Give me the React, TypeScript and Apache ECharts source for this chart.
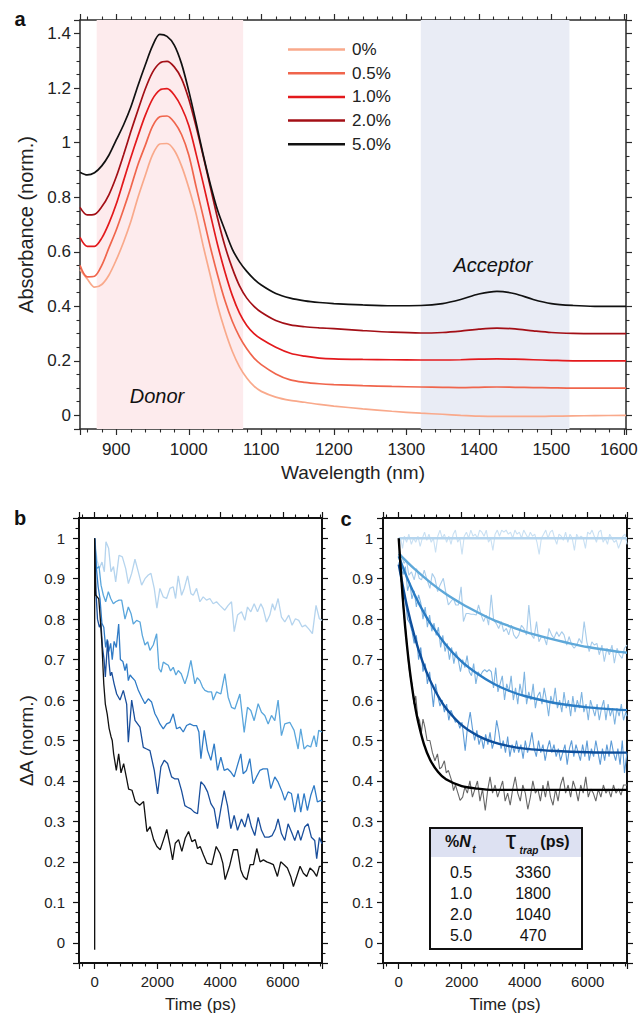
import { useEffect, useRef } from 'react';
import * as echarts from 'echarts';

const FONT = '"Liberation Sans", Arial, Helvetica, sans-serif';

// ---------- Panel a: absorbance spectra ----------
const wavelengths = [850, 860, 870, 880, 890, 900, 910, 920, 930, 940, 950, 960, 970, 980, 990, 1000, 1010, 1020, 1030, 1040, 1050, 1060, 1070, 1080, 1090, 1100, 1120, 1140, 1160, 1180, 1200, 1240, 1280, 1320, 1350, 1375, 1400, 1425, 1450, 1475, 1500, 1530, 1560, 1603];
const abs0 = [0.535, 0.5, 0.47, 0.48, 0.515, 0.57, 0.635, 0.71, 0.8, 0.88, 0.955, 0.995, 0.997, 0.972, 0.915, 0.835, 0.74, 0.62, 0.51, 0.4, 0.31, 0.235, 0.178, 0.137, 0.107, 0.088, 0.067, 0.055, 0.048, 0.04, 0.034, 0.024, 0.015, 0.008, 0.004, 0.0, -0.003, -0.004, -0.004, -0.004, -0.003, -0.002, -0.001, 0.0];
const abs05 = [0.55, 0.508, 0.51, 0.55, 0.615, 0.68, 0.755, 0.835, 0.92, 0.99, 1.06, 1.095, 1.098, 1.075, 1.03, 0.955, 0.84, 0.728, 0.615, 0.512, 0.42, 0.345, 0.288, 0.244, 0.21, 0.186, 0.152, 0.13, 0.121, 0.116, 0.113, 0.109, 0.106, 0.104, 0.103, 0.102, 0.103, 0.104, 0.103, 0.102, 0.101, 0.1, 0.1, 0.1];
const abs10 = [0.653, 0.62, 0.62, 0.65, 0.705, 0.775, 0.86, 0.945, 1.025, 1.1, 1.16, 1.193, 1.198, 1.175, 1.13, 1.063, 0.96, 0.85, 0.735, 0.623, 0.525, 0.44, 0.375, 0.33, 0.3, 0.28, 0.25, 0.228, 0.217, 0.21, 0.207, 0.205, 0.204, 0.203, 0.203, 0.204, 0.206, 0.207, 0.206, 0.204, 0.202, 0.2, 0.2, 0.2];
const abs20 = [0.763, 0.735, 0.737, 0.765, 0.81, 0.875, 0.955, 1.04, 1.12, 1.197, 1.258, 1.292, 1.298, 1.278, 1.235, 1.16, 1.06, 0.95, 0.835, 0.72, 0.62, 0.54, 0.475, 0.43, 0.4, 0.378, 0.348, 0.332, 0.325, 0.321, 0.318, 0.311, 0.305, 0.302, 0.304, 0.309, 0.316, 0.32, 0.317, 0.31, 0.304, 0.301, 0.3, 0.3];
const abs50 = [0.892, 0.882, 0.89, 0.915, 0.955, 1.01, 1.065, 1.13, 1.21, 1.285, 1.355, 1.397, 1.39, 1.358, 1.29, 1.19, 1.075, 0.955, 0.845, 0.75, 0.678, 0.61, 0.563, 0.528, 0.5, 0.478, 0.447, 0.43, 0.42, 0.414, 0.41, 0.405, 0.402, 0.403, 0.41, 0.425, 0.445, 0.455, 0.446, 0.425, 0.41, 0.403, 0.4, 0.4];
const absLabels = ['0%', '0.5%', '1.0%', '2.0%', '5.0%'];
const absColors = ['#f9a98b', '#f0654c', '#e3191c', '#a30f16', '#111111'];
const donorBand = [873, 1075];
const acceptorBand = [1320, 1525];

// ---------- Panel b: raw kinetics ----------
const b1: number[][] = [[0, 1.0], [74, 0.946], [148, 0.925], [233, 0.941], [308, 0.917], [360, 0.991], [445, 0.975], [520, 0.917], [600, 0.93], [670, 0.892], [776, 0.958], [882, 0.954], [990, 0.925], [1075, 0.888], [1180, 0.913], [1285, 0.948], [1392, 0.917], [1498, 0.884], [1604, 0.9], [1710, 0.909], [1795, 0.913], [1900, 0.876], [1985, 0.827], [2080, 0.876], [2188, 0.855], [2293, 0.851], [2400, 0.876], [2506, 0.88], [2580, 0.851], [2665, 0.907], [2772, 0.859], [2857, 0.876], [2963, 0.907], [3070, 0.863], [3144, 0.859], [3250, 0.876], [3356, 0.843], [3461, 0.855], [3567, 0.847], [3673, 0.851], [3780, 0.838], [3886, 0.843], [3992, 0.834], [4150, 0.822], [4257, 0.834], [4364, 0.843], [4450, 0.769], [4556, 0.81], [4683, 0.818], [4790, 0.797], [4874, 0.83], [4980, 0.818], [5087, 0.838], [5193, 0.818], [5299, 0.838], [5374, 0.826], [5480, 0.793], [5586, 0.81], [5670, 0.838], [5745, 0.822], [5850, 0.851], [5957, 0.805], [6063, 0.793], [6190, 0.81], [6296, 0.785], [6402, 0.801], [6508, 0.797], [6614, 0.781], [6720, 0.785], [6826, 0.776], [6944, 0.764], [7060, 0.834], [7166, 0.801], [7250, 0.797]];
const b2: number[][] = [[0, 1.0], [65, 0.925], [139, 0.93], [203, 0.884], [277, 0.859], [351, 0.843], [436, 0.868], [511, 0.851], [596, 0.838], [670, 0.843], [776, 0.847], [861, 0.847], [967, 0.8], [1073, 0.83], [1158, 0.814], [1232, 0.788], [1339, 0.797], [1445, 0.793], [1519, 0.76], [1604, 0.736], [1689, 0.744], [1763, 0.723], [1869, 0.736], [1976, 0.764], [2050, 0.678], [2120, 0.669], [2188, 0.694], [2260, 0.69], [2347, 0.686], [2420, 0.672], [2506, 0.681], [2590, 0.662], [2666, 0.673], [2760, 0.665], [2878, 0.64], [2960, 0.66], [3069, 0.698], [3196, 0.64], [3270, 0.655], [3356, 0.648], [3440, 0.632], [3515, 0.624], [3621, 0.62], [3727, 0.62], [3780, 0.6], [3886, 0.62], [4024, 0.615], [4152, 0.665], [4257, 0.607], [4364, 0.582], [4470, 0.578], [4630, 0.615], [4768, 0.52], [4874, 0.582], [4980, 0.574], [5086, 0.549], [5214, 0.591], [5320, 0.57], [5426, 0.562], [5533, 0.541], [5639, 0.562], [5745, 0.549], [5850, 0.6], [5957, 0.512], [6063, 0.541], [6222, 0.545], [6360, 0.525], [6488, 0.479], [6572, 0.529], [6678, 0.479], [6784, 0.488], [6890, 0.484], [6997, 0.512], [7071, 0.484], [7145, 0.525], [7250, 0.521]];
const b3: number[][] = [[0, 1.0], [50, 0.93], [110, 0.88], [170, 0.85], [230, 0.79], [290, 0.78], [350, 0.73], [400, 0.75], [450, 0.72], [510, 0.74], [560, 0.7], [620, 0.745], [690, 0.73], [765, 0.788], [820, 0.7], [900, 0.695], [967, 0.673], [1020, 0.69], [1073, 0.648], [1130, 0.662], [1180, 0.657], [1286, 0.648], [1392, 0.624], [1498, 0.607], [1604, 0.591], [1710, 0.603], [1816, 0.595], [1922, 0.566], [2000, 0.555], [2082, 0.541], [2188, 0.529], [2294, 0.541], [2400, 0.545], [2506, 0.566], [2612, 0.529], [2718, 0.533], [2825, 0.521], [2931, 0.537], [3037, 0.541], [3143, 0.537], [3249, 0.537], [3324, 0.521], [3388, 0.455], [3494, 0.525], [3600, 0.475], [3706, 0.451], [3812, 0.492], [3918, 0.426], [4024, 0.459], [4130, 0.426], [4237, 0.43], [4343, 0.422], [4449, 0.41], [4555, 0.439], [4661, 0.467], [4736, 0.418], [4842, 0.426], [4948, 0.455], [5054, 0.393], [5160, 0.41], [5267, 0.426], [5373, 0.43], [5511, 0.43], [5617, 0.381], [5745, 0.41], [5851, 0.397], [5978, 0.373], [6063, 0.352], [6169, 0.373], [6275, 0.369], [6381, 0.323], [6487, 0.369], [6572, 0.323], [6678, 0.369], [6784, 0.327], [6890, 0.364], [6997, 0.389], [7103, 0.348], [7209, 0.352], [7250, 0.35]];
const b4: number[][] = [[0, 1.0], [40, 0.87], [90, 0.8], [150, 0.78], [200, 0.79], [250, 0.73], [300, 0.7], [340, 0.657], [414, 0.747], [460, 0.69], [500, 0.66], [543, 0.669], [620, 0.64], [702, 0.615], [808, 0.6], [914, 0.624], [1020, 0.59], [1073, 0.496], [1180, 0.6], [1286, 0.55], [1445, 0.533], [1551, 0.483], [1657, 0.479], [1763, 0.475], [1901, 0.426], [2007, 0.368], [2113, 0.435], [2219, 0.451], [2325, 0.443], [2453, 0.41], [2559, 0.405], [2665, 0.405], [2771, 0.376], [2877, 0.339], [2962, 0.335], [3069, 0.331], [3175, 0.323], [3281, 0.319], [3387, 0.398], [3494, 0.389], [3600, 0.373], [3706, 0.344], [3812, 0.331], [3918, 0.282], [4024, 0.331], [4131, 0.376], [4237, 0.339], [4343, 0.282], [4449, 0.315], [4555, 0.278], [4683, 0.306], [4789, 0.286], [4895, 0.319], [5001, 0.286], [5107, 0.265], [5214, 0.31], [5320, 0.278], [5426, 0.261], [5553, 0.261], [5659, 0.265], [5765, 0.282], [5850, 0.306], [5956, 0.27], [6063, 0.253], [6169, 0.294], [6296, 0.27], [6381, 0.253], [6487, 0.278], [6572, 0.253], [6699, 0.286], [6805, 0.294], [6911, 0.261], [7017, 0.253], [7081, 0.208], [7166, 0.26], [7250, 0.245]];
const b5: number[][] = [[0, -0.017], [0, 1.0], [30, 0.86], [80, 0.855], [130, 0.85], [180, 0.8], [230, 0.74], [290, 0.64], [340, 0.59], [400, 0.565], [460, 0.53], [520, 0.51], [560, 0.5], [605, 0.467], [690, 0.426], [765, 0.467], [840, 0.42], [924, 0.443], [1008, 0.41], [1083, 0.38], [1190, 0.377], [1295, 0.349], [1433, 0.34], [1560, 0.349], [1666, 0.275], [1770, 0.287], [1880, 0.255], [1985, 0.238], [2090, 0.23], [2197, 0.255], [2300, 0.28], [2410, 0.238], [2485, 0.205], [2570, 0.246], [2675, 0.255], [2780, 0.226], [2890, 0.259], [2995, 0.275], [3100, 0.25], [3206, 0.255], [3280, 0.233], [3365, 0.238], [3470, 0.217], [3577, 0.197], [3737, 0.193], [3875, 0.238], [4002, 0.22], [4087, 0.197], [4161, 0.156], [4300, 0.189], [4427, 0.23], [4554, 0.23], [4660, 0.18], [4745, 0.164], [4851, 0.156], [4958, 0.193], [5064, 0.193], [5170, 0.233], [5276, 0.2], [5382, 0.205], [5488, 0.2], [5594, 0.197], [5700, 0.193], [5828, 0.164], [5934, 0.2], [6040, 0.193], [6146, 0.185], [6253, 0.164], [6338, 0.139], [6444, 0.164], [6550, 0.189], [6656, 0.172], [6762, 0.164], [6868, 0.185], [6975, 0.177], [7081, 0.164], [7166, 0.189], [7250, 0.189]];
const bColors = ['#b5d4ee', '#5aa6dc', '#2f7bc6', '#1a4f9c', '#111111'];

// ---------- Panel c: trap-corrected kinetics + fits ----------
const c0: number[][] = [[0, 0.985], [60, 1.0], [120, 0.975], [180, 1.005], [250, 0.99], [320, 1.01], [400, 0.985], [470, 1.0], [540, 0.99], [610, 1.005], [680, 0.98], [750, 1.0], [820, 1.015], [890, 0.995], [960, 1.01], [1030, 0.99], [1100, 1.0], [1170, 0.965], [1240, 1.005], [1310, 1.02], [1380, 1.0], [1450, 1.01], [1520, 0.99], [1590, 1.005], [1660, 0.985], [1730, 1.01], [1800, 1.02], [1870, 0.99], [1940, 1.0], [2010, 0.96], [2080, 1.005], [2150, 1.015], [2220, 1.0], [2290, 1.02], [2360, 1.005], [2430, 1.01], [2500, 1.0], [2570, 1.02], [2640, 1.015], [2710, 1.005], [2780, 1.02], [2850, 0.99], [2920, 1.0], [2990, 0.97], [3060, 1.01], [3130, 1.02], [3200, 1.005], [3270, 1.02], [3340, 1.015], [3410, 1.02], [3480, 1.01], [3550, 1.015], [3620, 1.0], [3690, 1.02], [3760, 1.01], [3830, 1.015], [3900, 1.0], [3970, 1.02], [4040, 1.01], [4110, 1.0], [4180, 1.015], [4250, 1.005], [4320, 1.01], [4390, 0.99], [4460, 0.96], [4530, 1.0], [4600, 1.01], [4670, 1.02], [4740, 1.0], [4810, 1.015], [4880, 1.02], [4950, 1.0], [5020, 0.985], [5090, 1.01], [5160, 1.005], [5230, 0.995], [5300, 1.015], [5370, 0.99], [5440, 1.01], [5510, 1.0], [5580, 0.97], [5650, 1.01], [5720, 1.0], [5790, 1.005], [5860, 1.0], [5930, 0.975], [6000, 1.015], [6070, 1.01], [6140, 1.02], [6210, 1.005], [6280, 0.99], [6350, 1.015], [6420, 1.02], [6490, 0.99], [6560, 1.0], [6630, 0.985], [6700, 1.01], [6770, 1.0], [6840, 0.99], [6910, 0.995], [6980, 0.975], [7050, 0.99], [7120, 1.005], [7190, 1.01], [7250, 0.985]];
const c1: number[][] = [[0, 0.966], [85, 0.958], [170, 0.938], [245, 0.946], [320, 0.909], [405, 0.917], [490, 0.897], [565, 0.925], [650, 0.901], [724, 0.897], [810, 0.921], [884, 0.901], [990, 0.876], [1065, 0.913], [1150, 0.901], [1235, 0.868], [1310, 0.884], [1416, 0.901], [1491, 0.868], [1576, 0.835], [1650, 0.843], [1736, 0.851], [1810, 0.835], [1896, 0.835], [1981, 0.88], [2055, 0.794], [2141, 0.814], [2215, 0.814], [2300, 0.812], [2375, 0.812], [2460, 0.81], [2535, 0.835], [2620, 0.81], [2694, 0.794], [2780, 0.81], [2854, 0.785], [2939, 0.86], [3014, 0.798], [3099, 0.789], [3174, 0.777], [3259, 0.794], [3333, 0.769], [3418, 0.777], [3493, 0.761], [3578, 0.785], [3653, 0.761], [3738, 0.752], [3813, 0.761], [3898, 0.785], [3972, 0.777], [4058, 0.761], [4132, 0.835], [4217, 0.761], [4292, 0.752], [4377, 0.794], [4452, 0.744], [4536, 0.757], [4611, 0.757], [4696, 0.736], [4771, 0.777], [4856, 0.761], [4931, 0.752], [5016, 0.769], [5091, 0.757], [5176, 0.769], [5250, 0.761], [5335, 0.736], [5410, 0.757], [5495, 0.736], [5570, 0.728], [5655, 0.736], [5730, 0.752], [5815, 0.74], [5889, 0.794], [5974, 0.744], [6049, 0.72], [6134, 0.744], [6209, 0.736], [6294, 0.74], [6368, 0.712], [6454, 0.736], [6528, 0.695], [6613, 0.728], [6688, 0.712], [6773, 0.736], [6848, 0.691], [6933, 0.728], [7008, 0.712], [7093, 0.703], [7167, 0.728], [7250, 0.736]];
const c2: number[][] = [[0, 0.96], [70, 0.93], [140, 0.91], [210, 0.93], [280, 0.87], [350, 0.89], [420, 0.85], [490, 0.87], [560, 0.83], [630, 0.86], [700, 0.84], [770, 0.8], [840, 0.83], [910, 0.78], [980, 0.81], [1050, 0.77], [1120, 0.79], [1190, 0.76], [1260, 0.78], [1330, 0.73], [1400, 0.76], [1470, 0.72], [1540, 0.74], [1610, 0.7], [1680, 0.73], [1750, 0.69], [1820, 0.72], [1890, 0.7], [1960, 0.67], [2030, 0.7], [2100, 0.68], [2170, 0.71], [2240, 0.67], [2310, 0.66], [2380, 0.69], [2450, 0.64], [2520, 0.67], [2590, 0.66], [2660, 0.67], [2730, 0.675], [2800, 0.67], [2870, 0.675], [2940, 0.67], [3010, 0.63], [3080, 0.68], [3150, 0.62], [3220, 0.64], [3290, 0.66], [3360, 0.6], [3430, 0.64], [3500, 0.62], [3570, 0.66], [3640, 0.6], [3710, 0.63], [3780, 0.59], [3850, 0.64], [3920, 0.61], [3990, 0.67], [4060, 0.59], [4130, 0.62], [4200, 0.6], [4270, 0.64], [4340, 0.58], [4410, 0.61], [4480, 0.62], [4550, 0.59], [4620, 0.63], [4690, 0.6], [4760, 0.56], [4830, 0.61], [4900, 0.59], [4970, 0.63], [5040, 0.58], [5110, 0.6], [5180, 0.57], [5250, 0.62], [5320, 0.58], [5390, 0.6], [5460, 0.56], [5530, 0.61], [5600, 0.57], [5670, 0.6], [5740, 0.58], [5810, 0.62], [5880, 0.57], [5950, 0.59], [6020, 0.55], [6090, 0.6], [6160, 0.58], [6230, 0.56], [6300, 0.59], [6370, 0.55], [6440, 0.58], [6510, 0.6], [6580, 0.55], [6650, 0.59], [6720, 0.56], [6790, 0.58], [6860, 0.54], [6930, 0.58], [7000, 0.56], [7070, 0.59], [7140, 0.55], [7210, 0.57], [7250, 0.56]];
const c3: number[][] = [[0, 0.94], [70, 0.9], [140, 0.86], [210, 0.85], [280, 0.8], [350, 0.79], [420, 0.77], [490, 0.74], [560, 0.76], [630, 0.7], [700, 0.73], [770, 0.67], [840, 0.69], [910, 0.64], [980, 0.67], [1050, 0.62], [1100, 0.583], [1170, 0.64], [1240, 0.61], [1310, 0.585], [1380, 0.6], [1450, 0.57], [1520, 0.59], [1590, 0.55], [1660, 0.575], [1730, 0.56], [1800, 0.545], [1870, 0.55], [1940, 0.53], [2010, 0.545], [2110, 0.475], [2180, 0.53], [2270, 0.57], [2340, 0.53], [2410, 0.5], [2480, 0.525], [2550, 0.49], [2620, 0.51], [2690, 0.48], [2760, 0.515], [2830, 0.49], [2900, 0.52], [2970, 0.48], [3040, 0.5], [3110, 0.55], [3180, 0.52], [3250, 0.48], [3320, 0.5], [3390, 0.47], [3460, 0.51], [3530, 0.46], [3600, 0.49], [3670, 0.47], [3740, 0.5], [3810, 0.47], [3880, 0.49], [3950, 0.455], [4020, 0.5], [4090, 0.47], [4160, 0.49], [4230, 0.52], [4300, 0.48], [4370, 0.46], [4440, 0.5], [4510, 0.47], [4580, 0.49], [4650, 0.45], [4720, 0.48], [4790, 0.5], [4860, 0.47], [4930, 0.49], [5000, 0.46], [5070, 0.48], [5140, 0.45], [5210, 0.47], [5280, 0.49], [5350, 0.44], [5420, 0.48], [5490, 0.5], [5560, 0.46], [5630, 0.49], [5700, 0.47], [5770, 0.45], [5840, 0.49], [5910, 0.46], [5980, 0.5], [6050, 0.45], [6120, 0.48], [6190, 0.46], [6260, 0.5], [6330, 0.47], [6400, 0.44], [6470, 0.48], [6540, 0.45], [6610, 0.49], [6680, 0.46], [6750, 0.5], [6820, 0.47], [6890, 0.45], [6960, 0.48], [7030, 0.44], [7100, 0.5], [7170, 0.42], [7250, 0.47]];
const c4: number[][] = [[0, 1.0], [60, 0.93], [120, 0.85], [180, 0.8], [240, 0.76], [300, 0.7], [360, 0.66], [420, 0.64], [480, 0.59], [540, 0.61], [600, 0.56], [660, 0.55], [720, 0.52], [770, 0.553], [830, 0.533], [900, 0.5], [990, 0.5], [1070, 0.47], [1150, 0.45], [1230, 0.467], [1300, 0.43], [1363, 0.434], [1450, 0.45], [1510, 0.42], [1576, 0.426], [1683, 0.4], [1740, 0.376], [1800, 0.39], [1880, 0.37], [1949, 0.352], [2030, 0.36], [2100, 0.385], [2180, 0.37], [2260, 0.4], [2340, 0.36], [2420, 0.38], [2500, 0.4], [2580, 0.35], [2660, 0.38], [2748, 0.327], [2830, 0.38], [2900, 0.41], [2980, 0.37], [3060, 0.39], [3140, 0.36], [3220, 0.38], [3300, 0.4], [3380, 0.35], [3460, 0.37], [3540, 0.34], [3620, 0.38], [3700, 0.41], [3780, 0.37], [3860, 0.35], [3940, 0.39], [4020, 0.37], [4100, 0.33], [4180, 0.36], [4260, 0.4], [4340, 0.37], [4420, 0.38], [4500, 0.35], [4580, 0.39], [4660, 0.36], [4740, 0.4], [4820, 0.36], [4900, 0.34], [4980, 0.38], [5060, 0.35], [5140, 0.39], [5220, 0.41], [5300, 0.37], [5380, 0.39], [5460, 0.36], [5540, 0.4], [5620, 0.38], [5700, 0.35], [5780, 0.39], [5860, 0.37], [5940, 0.41], [6020, 0.36], [6100, 0.38], [6180, 0.37], [6260, 0.35], [6340, 0.38], [6420, 0.36], [6500, 0.39], [6580, 0.37], [6660, 0.38], [6740, 0.36], [6820, 0.39], [6900, 0.37], [6980, 0.38], [7060, 0.365], [7140, 0.39], [7250, 0.39]];
const fit0: number[][] = [[0, 1.0], [7250, 1.0]];
const fit05: number[][] = [[0, 0.962], [500, 0.924], [1000, 0.891], [1500, 0.862], [2000, 0.838], [2500, 0.817], [3000, 0.798], [3500, 0.783], [4000, 0.769], [4500, 0.758], [5000, 0.748], [5500, 0.739], [6000, 0.731], [6500, 0.725], [7000, 0.719], [7250, 0.717]];
const fit10: number[][] = [[0, 0.955], [250, 0.905], [500, 0.861], [750, 0.823], [1000, 0.79], [1500, 0.736], [2000, 0.695], [2500, 0.665], [3000, 0.641], [3500, 0.623], [4000, 0.61], [5000, 0.592], [6000, 0.582], [7250, 0.575]];
const fit20: number[][] = [[0, 0.935], [250, 0.836], [500, 0.758], [750, 0.696], [1000, 0.648], [1250, 0.61], [1500, 0.58], [2000, 0.538], [2500, 0.512], [3000, 0.496], [3500, 0.486], [4000, 0.48], [5000, 0.474], [6000, 0.471], [7250, 0.47]];
const fit50: number[][] = [[0, 1.0], [100, 0.881], [200, 0.784], [300, 0.707], [400, 0.644], [500, 0.593], [600, 0.552], [800, 0.491], [1000, 0.452], [1250, 0.422], [1500, 0.404], [2000, 0.387], [2500, 0.381], [3000, 0.378], [7250, 0.378]];
const cDataColors = ['#c9e0f3', '#a6cbea', '#7db3e0', '#5e9cd7', '#666666'];
const cFitColors = ['#b5d5ee', '#5ea8d9', '#2a7cc4', '#0d4e9b', '#000000'];

// ---------- Table ----------
const tableNt = ['0.5', '1.0', '2.0', '5.0'];
const tableTau = ['3360', '1800', '1040', '470'];

const zip = (xs: number[], ys: number[]) => xs.map((x, i) => [x, ys[i]]);

const plainNum = (v: number) => {
  if (v === 1600) return '{e|1600}';
  return String(Math.round(v * 1000) / 1000);
};

function valueAxis(o: any) {
  const ls = { color: o.color, width: o.width };
  return {
    type: 'value',
    gridIndex: o.grid,
    position: o.position,
    min: o.min,
    max: o.max,
    splitNumber: o.split,
    axisLine: { show: true, onZero: false, lineStyle: ls },
    axisTick: { show: true, inside: false, length: o.tickLen, lineStyle: { color: o.color, width: 1.2 } },
    minorTick: { show: true, splitNumber: o.minor, length: o.minorLen, lineStyle: { color: o.color, width: 1.1 } },
    splitLine: { show: false },
    minorSplitLine: { show: false },
    axisLabel: {
      show: !!o.labels,
      showMinLabel: false,
      showMaxLabel: false,
      fontSize: o.fontSize,
      color: '#222',
      fontFamily: FONT,
      margin: o.margin,
      formatter: plainNum,
      rich: { e: { fontSize: o.fontSize, color: '#222', fontFamily: FONT, padding: [0, 10, 0, 0] } },
    },
    name: o.name || '',
    nameLocation: 'middle',
    nameGap: o.nameGap,
    nameTextStyle: { fontSize: o.nameSize, color: '#222', fontFamily: FONT },
  };
}

const aX = { color: '#2a2a2a', width: 1.5, tickLen: 6, minorLen: 3.5 };
const bX = { color: '#111', width: 2, tickLen: 6, minorLen: 3.5 };

const lineSeries = (name: string, data: any, xi: number, yi: number, color: string, width: number, extra: any = {}) => ({
  type: 'line',
  name,
  data,
  xAxisIndex: xi,
  yAxisIndex: yi,
  symbol: 'none',
  showSymbol: false,
  lineStyle: { color, width },
  itemStyle: { color },
  ...extra,
});

const absSets = [abs0, abs05, abs10, abs20, abs50];

const series: any[] = [];
absSets.forEach((vals, i) => {
  const extra: any = { smooth: 0.3 };
  if (i === 0) {
    extra.markArea = {
      silent: true,
      data: [
        [{ xAxis: donorBand[0], itemStyle: { color: '#fdebed' } }, { xAxis: donorBand[1] }],
        [{ xAxis: acceptorBand[0], itemStyle: { color: '#e9ecf5' } }, { xAxis: acceptorBand[1] }],
      ],
    };
  }
  series.push(lineSeries(absLabels[i], zip(wavelengths, vals), 0, 0, absColors[i], 1.7, extra));
});
[b1, b2, b3, b4, b5].forEach((d, i) => series.push(lineSeries('b' + i, d, 2, 2, bColors[i], 1.3)));
[c0, c1, c2, c3, c4].forEach((d, i) => series.push(lineSeries('c' + i, d, 4, 4, cDataColors[i], 1.1)));
[fit0, fit05, fit10, fit20, fit50].forEach((d, i) => series.push(lineSeries('f' + i, d, 4, 4, cFitColors[i], 2.4, { smooth: 0.3, z: 5 })));

const txt = (text: string, x: number, y: number, s: any = {}) => ({
  type: 'text',
  x,
  y,
  z: 100,
  style: {
    text,
    fontFamily: FONT,
    fontSize: 16,
    fill: '#111',
    align: 'center',
    verticalAlign: 'middle',
    ...s,
  },
});

const graphics: any[] = [
  txt('a', 20, 19, { fontWeight: 'bold', fontSize: 20 }),
  txt('b', 20, 518, { fontWeight: 'bold', fontSize: 20 }),
  txt('c', 346, 519, { fontWeight: 'bold', fontSize: 20 }),
  txt('Donor', 157, 396, { fontStyle: 'italic', fontSize: 20 }),
  txt('Acceptor', 493, 265, { fontStyle: 'italic', fontSize: 20 }),
  { type: 'rect', z: 90, shape: { x: 430, y: 828, width: 152, height: 121 }, style: { fill: '#ffffff', stroke: '#111', lineWidth: 2 } },
  { type: 'rect', z: 91, shape: { x: 431, y: 829, width: 150, height: 28 }, style: { fill: '#dde1f2' } },
  txt('%', 452, 841, { fontWeight: 'bold' }),
  txt('N', 465, 841, { fontWeight: 'bold', fontStyle: 'italic' }),
  txt('t', 474, 849, { fontWeight: 'bold', fontStyle: 'italic', fontSize: 10 }),
  txt('τ', 511, 840, { fontSize: 26 }),
  txt('trap', 529, 850, { fontWeight: 'bold', fontStyle: 'italic', fontSize: 10 }),
  txt('(ps)', 555, 841, { fontWeight: 'bold' }),
];
tableNt.forEach((v, i) => {
  graphics.push(txt(v, 461, 872 + i * 21, { fontSize: 16 }));
  graphics.push(txt(tableTau[i], 533, 872 + i * 21, { fontSize: 16 }));
});

const option: any = {
  animation: false,
  backgroundColor: '#ffffff',
  textStyle: { fontFamily: FONT },
  grid: [
    { left: 80, top: 20, width: 546, height: 409, outerBoundsMode: 'none' },
    { left: 79, top: 518, width: 243, height: 445, outerBoundsMode: 'none' },
    { left: 383, top: 518, width: 244, height: 445, outerBoundsMode: 'none' },
  ],
  xAxis: [
    valueAxis({ ...aX, grid: 0, position: 'bottom', min: 850, max: 1603, split: 7, minor: 5, labels: true, fontSize: 17, margin: 12, name: 'Wavelength (nm)', nameGap: 34, nameSize: 19 }),
    valueAxis({ ...aX, grid: 0, position: 'top', min: 850, max: 1603, split: 7, minor: 5 }),
    valueAxis({ ...bX, grid: 1, position: 'bottom', min: -500, max: 7250, split: 4, minor: 5, labels: true, fontSize: 15, margin: 11, name: 'Time (ps)', nameGap: 33, nameSize: 17 }),
    valueAxis({ ...bX, grid: 1, position: 'top', min: -500, max: 7250, split: 4, minor: 5 }),
    valueAxis({ ...bX, grid: 2, position: 'bottom', min: -500, max: 7250, split: 4, minor: 5, labels: true, fontSize: 15, margin: 11, name: 'Time (ps)', nameGap: 33, nameSize: 17 }),
    valueAxis({ ...bX, grid: 2, position: 'top', min: -500, max: 7250, split: 4, minor: 5 }),
  ],
  yAxis: [
    valueAxis({ ...aX, grid: 0, position: 'left', min: -0.05, max: 1.45, split: 7, minor: 4, labels: true, fontSize: 17, margin: 9, name: 'Absorbance (norm.)', nameGap: 44, nameSize: 20 }),
    valueAxis({ ...aX, grid: 0, position: 'right', min: -0.05, max: 1.45, split: 7, minor: 4 }),
    valueAxis({ ...bX, grid: 1, position: 'left', min: -0.05, max: 1.05, split: 11, minor: 4, labels: true, fontSize: 15, margin: 14, name: 'ΔA (norm.)', nameGap: 43, nameSize: 19 }),
    valueAxis({ ...bX, grid: 1, position: 'right', min: -0.05, max: 1.05, split: 11, minor: 4 }),
    valueAxis({ ...bX, grid: 2, position: 'left', min: -0.05, max: 1.05, split: 11, minor: 4, labels: true, fontSize: 15, margin: 10 }),
    valueAxis({ ...bX, grid: 2, position: 'right', min: -0.05, max: 1.05, split: 11, minor: 4 }),
  ],
  legend: {
    data: absLabels.map((n) => ({ name: n, icon: 'rect' })),
    orient: 'vertical',
    left: 283,
    top: 36,
    itemWidth: 57,
    itemHeight: 2.5,
    itemGap: 6.7,
    textStyle: { fontSize: 17, lineHeight: 17, color: '#222', fontFamily: FONT, padding: [0, 0, 0, 2] },
  },
  series,
  graphic: graphics,
};

export default function App() {
  const ref = useRef<HTMLDivElement>(null);
  useEffect(() => {
    const chart = echarts.init(ref.current as HTMLDivElement, undefined, { renderer: 'svg' });
    chart.setOption(option);
    return () => chart.dispose();
  }, []);
  return <div ref={ref} style={{ position: 'absolute', left: 0, top: 0, width: 639, height: 1014, background: '#fff' }} />;
}
